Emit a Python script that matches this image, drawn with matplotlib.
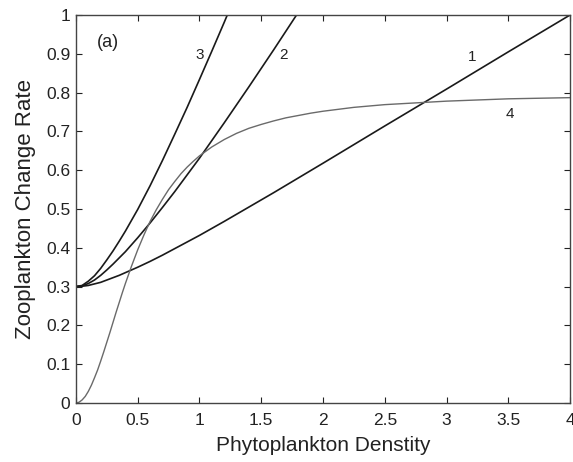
import matplotlib
matplotlib.use("Agg")
import matplotlib.pyplot as plt
from matplotlib.ticker import FuncFormatter

plt.rcParams['font.family'] = ['Liberation Sans', 'DejaVu Sans']

# Curve 1
x1 = [0, 0.05, 0.1, 0.15, 0.2, 0.25, 0.3, 0.35, 0.4, 0.5, 0.6, 0.7, 0.8, 0.9,
      1.0, 1.2, 1.4, 1.6, 1.8, 2.0, 2.25, 2.5, 3.0, 3.5, 4.0]
y1 = [0.300, 0.301, 0.303, 0.307, 0.311, 0.317, 0.323, 0.329, 0.336, 0.350,
      0.365, 0.381, 0.398, 0.415, 0.432, 0.468, 0.505, 0.542, 0.580, 0.618,
      0.666, 0.714, 0.809, 0.905, 1.000]

# Curve 2
x2 = [0, 0.05, 0.1, 0.15, 0.2, 0.25, 0.3, 0.35, 0.4, 0.5, 0.6, 0.7, 0.8, 0.9,
      1.0, 1.2, 1.4, 1.6, 1.8, 2.0]
y2 = [0.300, 0.302, 0.308, 0.317, 0.329, 0.343, 0.358, 0.374, 0.390, 0.426,
      0.464, 0.504, 0.545, 0.588, 0.631, 0.722, 0.815, 0.910, 1.007, 1.104]

# Curve 3
x3 = [0, 0.05, 0.1, 0.15, 0.2, 0.25, 0.3, 0.35, 0.4, 0.5, 0.6, 0.7, 0.8, 0.9,
      1.0, 1.1, 1.2, 1.3]
y3 = [0.300, 0.303, 0.314, 0.328, 0.347, 0.369, 0.392, 0.417, 0.443, 0.499,
      0.560, 0.625, 0.693, 0.762, 0.834, 0.907, 0.981, 1.057]

# Curve 4
x4 = [0, 0.025, 0.05, 0.075, 0.1, 0.125, 0.15, 0.175, 0.2, 0.225, 0.25, 0.275,
      0.3, 0.325, 0.35, 0.375, 0.4, 0.45, 0.5, 0.55, 0.6, 0.65, 0.7, 0.75,
      0.8, 0.85, 0.9, 0.95, 1.0, 1.1, 1.2, 1.3, 1.4, 1.5, 1.6, 1.7, 1.8, 1.9,
      2.0, 2.25, 2.5, 3.0, 3.5, 4.0]
y4 = [0.000, 0.002, 0.008, 0.017, 0.030, 0.046, 0.065, 0.085, 0.108, 0.132,
      0.157, 0.182, 0.208, 0.234, 0.259, 0.284, 0.308, 0.353, 0.395, 0.433,
      0.468, 0.498, 0.525, 0.550, 0.571, 0.591, 0.608, 0.623, 0.637, 0.660,
      0.679, 0.695, 0.708, 0.718, 0.727, 0.735, 0.741, 0.747, 0.752, 0.762,
      0.769, 0.778, 0.784, 0.787]

xticks = [0, 0.5, 1, 1.5, 2, 2.5, 3, 3.5, 4]
yticks = [0, 0.1, 0.2, 0.3, 0.4, 0.5, 0.6, 0.7, 0.8, 0.9, 1]

fig = plt.figure(figsize=(5.73, 4.62), dpi=100)
ax = fig.add_axes([0.1326, 0.1277, 0.8622, 0.8398])

ax.plot(x1, y1, color='#1a1a1a', lw=1.2)
ax.plot(x2, y2, color='#1a1a1a', lw=1.2)
ax.plot(x3, y3, color='#1a1a1a', lw=1.2)
ax.plot(x4, y4, color='#6a6a6a', lw=1.0)

ax.set_xlim(0, 4)
ax.set_ylim(0, 1)
ax.set_xticks(xticks)
ax.set_yticks(yticks)
fmt = FuncFormatter(lambda v, p: ('%g' % v))
ax.xaxis.set_major_formatter(fmt)
ax.yaxis.set_major_formatter(fmt)
ax.tick_params(direction='in', length=4, width=0.8, top=True, right=True,
               labelsize=12.5, colors='#222222')
ax.tick_params(axis='x', pad=7)
ax.tick_params(axis='y', pad=4)
for s in ax.spines.values():
    s.set_color('#444444')
    s.set_linewidth(1.0)

ax.set_xlabel('Phytoplankton Denstity', fontsize=15, color='#222222', labelpad=6)
ax.set_ylabel('Zooplankton Change Rate', fontsize=16, color='#222222', labelpad=7)

ax.text(0.26, 0.93, '(a)', fontsize=13, ha='center', va='center', color='#222222')
ax.text(1.004, 0.897, '3', fontsize=11, ha='center', va='center', color='#222222')
ax.text(1.684, 0.897, '2', fontsize=11, ha='center', va='center', color='#222222')
ax.text(3.21, 0.893, '1', fontsize=11, ha='center', va='center', color='#222222')
ax.text(3.51, 0.745, '4', fontsize=11, ha='center', va='center', color='#222222')

fig.savefig('out.png', dpi=100)
